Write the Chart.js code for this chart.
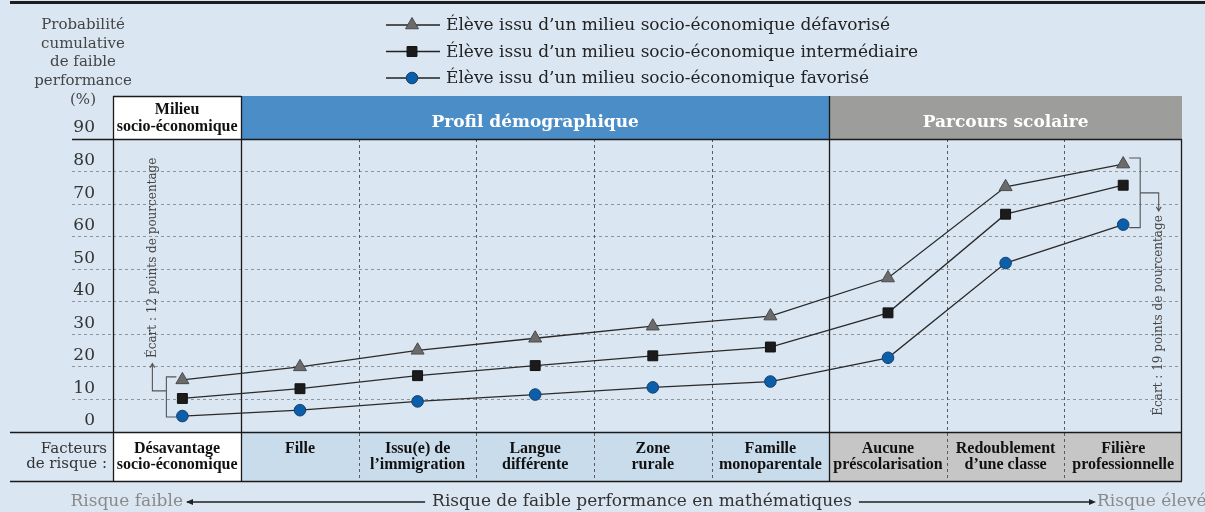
<!DOCTYPE html>
<html lang="fr">
<head>
<meta charset="UTF-8">
<title>Probabilité cumulative de faible performance en mathématiques</title>
<script src="https://cdn.jsdelivr.net/npm/chart.js"></script>
<style>
  html, body { margin: 0; padding: 0; background: #dae6f2; }
  #cadre { width: 1205px; height: 512px; position: relative; }
</style>
</head>
<body>
<div id="cadre"><canvas id="graphique"></canvas></div>
<script>
// --- Données ---
const facteurs = [
  ['Désavantage', 'socio-économique'],
  ['Fille'],
  ['Issu(e) de', 'l’immigration'],
  ['Langue', 'différente'],
  ['Zone', 'rurale'],
  ['Famille', 'monoparentale'],
  ['Aucune', 'préscolarisation'],
  ['Redoublement', 'd’une classe'],
  ['Filière', 'professionnelle']
];
const groupeTitres = [['Milieu', 'socio-économique'], ['Profil démographique'], ['Parcours scolaire']];
const groupeDebut = [0, 1, 6];
const groupeFin = [0, 5, 8];

const seriesNoms = [
  'Élève issu d’un milieu socio-économique défavorisé',
  'Élève issu d’un milieu socio-économique intermédiaire',
  'Élève issu d’un milieu socio-économique favorisé'
];
const defavorise    = [16.0, 20.0, 25.1, 28.8, 32.5, 35.6, 47.3, 75.3, 82.3];
const intermediaire = [10.3, 13.3, 17.3, 20.4, 23.4, 26.1, 36.6, 66.9, 75.8];
const favorise      = [ 4.9,  6.7,  9.4, 11.5, 13.7, 15.5, 22.8, 51.9, 63.7];

const yMin = 0, yMax = 90, yPas = 10;
const titreAxeY = ['Probabilité', 'cumulative', 'de faible', 'performance', '(%)'];
const ecartGauche = 'Écart : 12 points de pourcentage';
const ecartDroite = 'Écart : 19 points de pourcentage';
const risqueFaible = 'Risque faible';
const risqueTitre = 'Risque de faible performance en mathématiques';
const risqueEleve = 'Risque élevé';
const facteursTitre = ['Facteurs', 'de risque :'];

// --- Styles ---
const FOND = '#dae6f2';
const SERIF = '"DejaVu Serif", serif';
const SERIF_GRAS = '"Liberation Serif", serif';
const enteteCouleurs = ['#ffffff', '#4b8dc6', '#9d9d9b'];
const enteteTexte = ['#111111', '#ffffff', '#ffffff'];
const piedCouleurs = ['#ffffff', '#c9dcec', '#c6c6c6'];
const HAUT_ENTETE = 96, BAS_PIED = 481;

const n = facteurs.length;
const points = arr => arr.map((v, i) => ({ x: i, y: v }));

const styleSeries = [
  { pointStyle: 'triangle', radius: 7.5, fond: '#6b6b6b', bord: '#4a4a4a' },
  { pointStyle: 'rect', radius: 7, fond: '#1b1b1b', bord: '#111111' },
  { pointStyle: 'circle', radius: 5.8, fond: '#0b5ea9', bord: '#17406b' }
];
const valeurs = [defavorise, intermediaire, favorise];

function fleche(ctx, x, y, dir, taille) {
  ctx.beginPath();
  if (dir === 'haut') { ctx.moveTo(x - taille * 0.6, y + taille); ctx.lineTo(x, y); ctx.lineTo(x + taille * 0.6, y + taille); }
  if (dir === 'bas') { ctx.moveTo(x - taille * 0.6, y - taille); ctx.lineTo(x, y); ctx.lineTo(x + taille * 0.6, y - taille); }
  ctx.stroke();
}
function flechePleine(ctx, x, y, dir) {
  ctx.beginPath();
  const s = dir === 'gauche' ? 1 : -1;
  ctx.moveTo(x, y); ctx.lineTo(x + s * 7, y - 3); ctx.lineTo(x + s * 7, y + 3); ctx.closePath();
  ctx.fill();
}

const cadrePlugin = {
  id: 'cadreTableau',
  beforeDraw(chart) {
    const { ctx, chartArea: a, scales: { x } } = chart;
    const gauche = i => i === 0 ? a.left : x.getPixelForValue(i - 0.5);
    const droite = i => i === n - 1 ? a.right : x.getPixelForValue(i + 0.5);
    ctx.save();
    ctx.fillStyle = FOND;
    ctx.fillRect(0, 0, chart.width, chart.height);
    groupeTitres.forEach((t, g) => {
      const x0 = gauche(groupeDebut[g]), x1 = droite(groupeFin[g]);
      ctx.fillStyle = enteteCouleurs[g];
      ctx.fillRect(x0, HAUT_ENTETE, x1 - x0, a.top - HAUT_ENTETE);
      ctx.fillStyle = piedCouleurs[g];
      ctx.fillRect(x0, a.bottom, x1 - x0, BAS_PIED - a.bottom);
    });
    ctx.restore();
  },
  beforeDatasetsDraw(chart) {
    const { ctx, chartArea: a, scales: { x } } = chart;
    ctx.save();
    // séparateurs verticaux
    for (let i = 0; i < n - 1; i++) {
      const xb = Math.round(x.getPixelForValue(i + 0.5)) + 0.5;
      const solide = groupeFin.includes(i);
      ctx.beginPath();
      ctx.lineWidth = solide ? 1.3 : 1;
      ctx.strokeStyle = solide ? '#1a1a1a' : '#5a5a5a';
      ctx.setLineDash(solide ? [] : [3, 3]);
      ctx.moveTo(xb, solide ? HAUT_ENTETE : a.top);
      ctx.lineTo(xb, BAS_PIED);
      ctx.stroke();
    }
    ctx.setLineDash([]);
    ctx.strokeStyle = '#1a1a1a';
    ctx.lineWidth = 1.3;
    ctx.beginPath();
    ctx.moveTo(a.left + 0.5, HAUT_ENTETE); ctx.lineTo(a.left + 0.5, BAS_PIED);
    ctx.moveTo(a.right - 0.5, a.top); ctx.lineTo(a.right - 0.5, BAS_PIED);
    ctx.moveTo(a.left, HAUT_ENTETE + 0.5); ctx.lineTo(x.getPixelForValue(0.5), HAUT_ENTETE + 0.5);
    ctx.stroke();
    ctx.lineWidth = 1.6;
    ctx.beginPath();
    ctx.moveTo(72, a.top + 0.5); ctx.lineTo(a.right, a.top + 0.5);
    ctx.moveTo(10, a.bottom + 0.5); ctx.lineTo(a.right, a.bottom + 0.5);
    ctx.moveTo(10, BAS_PIED + 0.5); ctx.lineTo(a.right, BAS_PIED + 0.5);
    ctx.stroke();
    ctx.restore();
  },
  afterDraw(chart) {
    const { ctx, chartArea: a, scales: { x, y } } = chart;
    const gauche = i => i === 0 ? a.left : x.getPixelForValue(i - 0.5);
    const droite = i => i === n - 1 ? a.right : x.getPixelForValue(i + 0.5);
    ctx.save();
    // filet noir du haut
    ctx.fillStyle = '#1e1e1e';
    ctx.fillRect(10, 1, chart.width - 10, 3);

    // titre de l'axe Y
    ctx.fillStyle = '#444';
    ctx.font = '15px ' + SERIF;
    ctx.textAlign = 'center';
    ctx.textBaseline = 'middle';
    titreAxeY.forEach((l, k) => ctx.fillText(l, 83, 25 + k * 18.8));

    // légende
    valeurs.forEach((v, s) => {
      const ly = 25 + s * 26.5;
      ctx.strokeStyle = '#222'; ctx.lineWidth = 1.3;
      ctx.beginPath(); ctx.moveTo(386, ly); ctx.lineTo(440, ly); ctx.stroke();
      const st = styleSeries[s];
      ctx.fillStyle = st.fond; ctx.strokeStyle = st.bord; ctx.lineWidth = 1;
      Chart.helpers.drawPoint(ctx, { pointStyle: st.pointStyle, radius: st.radius, rotation: 0, borderWidth: 1 }, 412, ly);
      ctx.fillStyle = '#222';
      ctx.font = '17px ' + SERIF;
      ctx.textAlign = 'left';
      ctx.fillText(seriesNoms[s], 446, ly + 1);
    });

    // entêtes de groupes
    groupeTitres.forEach((t, g) => {
      const x0 = gauche(groupeDebut[g]), x1 = droite(groupeFin[g]);
      ctx.fillStyle = enteteTexte[g];
      ctx.textAlign = 'center';
      if (t.length > 1) {
        ctx.font = 'bold 16px ' + SERIF_GRAS;
        t.forEach((l, k) => ctx.fillText(l, (x0 + x1) / 2, 110 + k * 16.5));
      } else {
        ctx.font = 'bold 17px ' + SERIF;
        ctx.fillText(t[0], (x0 + x1) / 2, 123);
      }
    });

    // facteurs de risque
    ctx.fillStyle = '#111';
    ctx.font = 'bold 16px ' + SERIF_GRAS;
    facteurs.forEach((f, i) => {
      const cx = (gauche(i) + droite(i)) / 2;
      f.forEach((l, k) => ctx.fillText(l, cx, 449 + k * 15.5));
    });
    ctx.fillStyle = '#333';
    ctx.font = '15px ' + SERIF;
    ctx.textAlign = 'right';
    facteursTitre.forEach((l, k) => ctx.fillText(l, 107, 449 + k * 15.5));

    // flèche du bas
    const yb = 502;
    ctx.font = '17px ' + SERIF;
    ctx.textAlign = 'right';
    ctx.fillStyle = '#8a8a8a';
    ctx.fillText(risqueFaible, 183, yb);
    ctx.textAlign = 'center';
    ctx.fillStyle = '#333';
    const cx = 642;
    ctx.fillText(risqueTitre, cx, yb);
    const w = ctx.measureText(risqueTitre).width;
    ctx.strokeStyle = '#222'; ctx.lineWidth = 1.3;
    ctx.beginPath();
    ctx.moveTo(187, yb); ctx.lineTo(cx - w / 2 - 7, yb);
    ctx.moveTo(cx + w / 2 + 7, yb); ctx.lineTo(1093, yb);
    ctx.stroke();
    ctx.fillStyle = '#222';
    flechePleine(ctx, 186, yb, 'gauche');
    flechePleine(ctx, 1096, yb, 'droite');
    ctx.textAlign = 'left';
    ctx.fillStyle = '#8a8a8a';
    ctx.fillText(risqueEleve, 1097, yb);

    // annotations d'écart
    ctx.strokeStyle = '#555'; ctx.lineWidth = 1.1;
    // gauche
    let px = x.getPixelForValue(0);
    let xb = px - 16, yh = y.getPixelForValue(defavorise[0]) - 3, yl = y.getPixelForValue(favorise[0]) + 1;
    let ym = yh + 14, xa = px - 30;
    ctx.beginPath();
    ctx.moveTo(px - 6, yh); ctx.lineTo(xb, yh); ctx.lineTo(xb, yl); ctx.lineTo(px - 6, yl);
    ctx.moveTo(xb, ym); ctx.lineTo(xa, ym); ctx.lineTo(xa, y.getPixelForValue(21));
    ctx.stroke();
    fleche(ctx, xa, y.getPixelForValue(21), 'haut', 4);
    ctx.fillStyle = '#444';
    ctx.font = '12px ' + SERIF;
    ctx.save();
    ctx.translate(xa, y.getPixelForValue(22.7));
    ctx.rotate(-Math.PI / 2);
    ctx.textAlign = 'left';
    ctx.fillText(ecartGauche, 0, 0);
    ctx.restore();
    // droite
    px = x.getPixelForValue(n - 1);
    xb = px + 17; yh = y.getPixelForValue(defavorise[n - 1]) - 6; yl = y.getPixelForValue(favorise[n - 1]) + 3;
    ym = (yh + yl) / 2; xa = px + 35.5;
    ctx.beginPath();
    ctx.moveTo(px + 6, yh); ctx.lineTo(xb, yh); ctx.lineTo(xb, yl); ctx.lineTo(px + 6, yl);
    ctx.moveTo(xb, ym); ctx.lineTo(xa, ym); ctx.lineTo(xa, ym + 18);
    ctx.stroke();
    fleche(ctx, xa, ym + 18, 'bas', 4);
    ctx.save();
    ctx.translate(xa, y.getPixelForValue(5));
    ctx.rotate(-Math.PI / 2);
    ctx.textAlign = 'left';
    ctx.fillText(ecartDroite, 0, 0);
    ctx.restore();

    ctx.restore();
  }
};

const ctx = document.getElementById('graphique').getContext('2d');
const graphique = new Chart(ctx, {
  type: 'line',
  data: {
    datasets: valeurs.map((v, s) => ({
      label: seriesNoms[s],
      data: points(v),
      borderColor: '#2a2a2a',
      borderWidth: 1.3,
      pointStyle: styleSeries[s].pointStyle,
      pointRadius: styleSeries[s].radius,
      pointBackgroundColor: styleSeries[s].fond,
      pointBorderColor: styleSeries[s].bord,
      pointBorderWidth: 1,
      tension: 0
    }))
  },
  options: {
    responsive: true,
    maintainAspectRatio: false,
    animation: false,
    events: [],
    layout: { padding: { left: 10, right: 23, top: 139, bottom: 80 } },
    plugins: { legend: { display: false }, tooltip: { enabled: false } },
    scales: {
      x: { type: 'linear', display: false, min: -0.59, max: n - 0.5 },
      y: {
        min: yMin, max: yMax,
        afterFit: s => { s.width = 103; },
        border: { display: false, dash: [3, 3] },
        grid: {
          color: '#8e969d', lineWidth: 1,
          drawTicks: true, tickLength: 41, tickColor: '#8e969d', tickBorderDash: [3, 3]
        },
        ticks: {
          stepSize: yPas, padding: -23, labelOffset: -11,
          color: '#333', font: { family: SERIF, size: 17 }
        }
      }
    }
  },
  plugins: [cadrePlugin]
});
</script>
</body>
</html>
